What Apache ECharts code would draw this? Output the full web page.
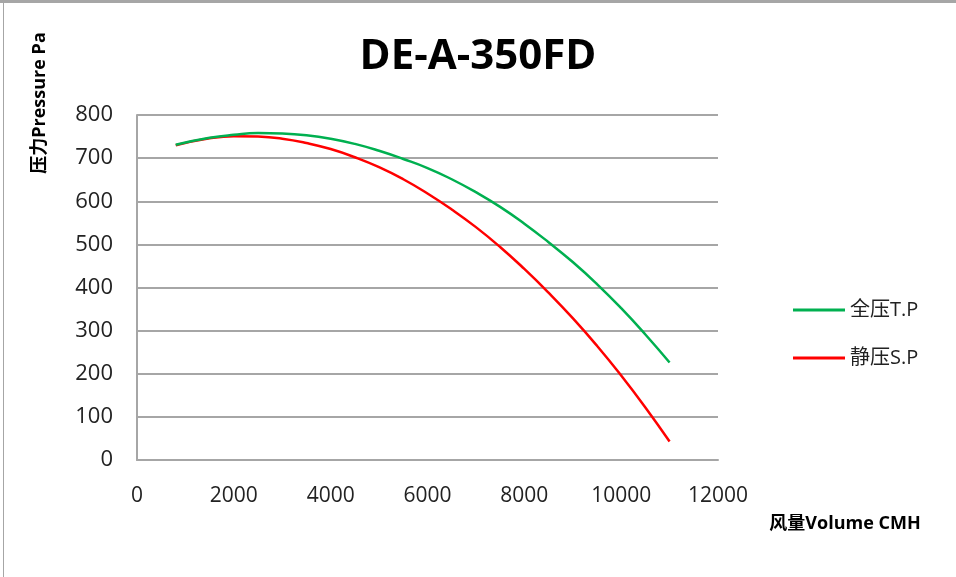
<!DOCTYPE html>
<html>
<head>
<meta charset="utf-8">
<title>DE-A-350FD</title>
<script src="https://cdn.jsdelivr.net/npm/echarts@6/dist/echarts.min.js"></script>
<style>
  html, body { margin: 0; padding: 0; background: #fff; }
  #frame {
    position: absolute; left: 0; top: 0; width: 956px; height: 577px;
    overflow: hidden;
  }
  /* spreadsheet-like border round the chart */
  #topband { position: absolute; left: 0; top: 0; width: 956px; height: 3px; background: #a6a6a6; }
  #leftline { position: absolute; left: 3px; top: 3px; width: 1px; height: 574px; background: #a6a6a6; }
  #chart { position: absolute; left: 0; top: 0; width: 956px; height: 577px; }
</style>
</head>
<body>
<div id="frame">
  <div id="chart"></div>
  <div id="topband"></div>
  <div id="leftline"></div>
</div>
<script>
// 风量 (CMH)
var volume = [800, 1500, 2000, 2500, 3000, 3500, 4000, 4500, 5000, 5500, 6000,
  6500, 7000, 7500, 8000, 8500, 9000, 9500, 10000, 10500, 11000]
// 全压 T.P (Pa)
var totalPressure = [731, 747, 754, 758, 757, 753, 745, 733, 717, 698, 677,
  651, 621, 587, 548, 505, 459, 408, 352, 291, 226]
// 静压 S.P (Pa)
var staticPressure = [730, 746, 751, 750, 745, 735, 721, 702, 679, 651, 618,
  581, 540, 494, 443, 388, 329, 265, 196, 122, 43]

var seriesNames = ['全压T.P', '静压S.P']

var chart = echarts.init(document.getElementById('chart'))

function pairs(xs, ys) {
  return xs.map(function (x, i) { return [x, ys[i]] })
}

var labelFont = '"Open Sans", "Noto Sans CJK SC", sans-serif'

var option = {
  backgroundColor: '#fff',
  animation: false,
  title: {
    text: 'DE-A-350FD',
    left: 'center',
    top: 31,
    textStyle: {
      fontFamily: labelFont,
      fontSize: 42,
      fontWeight: 'bold',
      color: '#000'
    }
  },
  legend: {
    orient: 'vertical',
    left: 788,
    top: 295,
    itemWidth: 52,
    itemHeight: 3,
    itemGap: 28,
    icon: 'rect',
    data: seriesNames,
    textStyle: {
      fontFamily: labelFont,
      fontSize: 20,
      color: '#222'
    }
  },
  grid: {
    left: 137,
    right: 238,
    top: 115,
    bottom: 117
  },
  xAxis: {
    type: 'value',
    min: 0,
    max: 12000,
    interval: 2000,
    axisLine: { show: true, lineStyle: { color: '#a6a6a6', width: 2 } },
    axisTick: { show: false },
    splitLine: { show: false },
    axisLabel: {
      margin: 26,
      fontFamily: labelFont,
      fontSize: 21,
      color: '#222',
      formatter: function (v) { return String(v) }
    }
  },
  yAxis: {
    type: 'value',
    min: 0,
    max: 800,
    interval: 100,
    axisLine: { show: true, lineStyle: { color: '#a6a6a6', width: 2 } },
    axisTick: { show: false },
    splitLine: { show: true, lineStyle: { color: '#a6a6a6', width: 2 } },
    axisLabel: {
      margin: 24,
      fontFamily: labelFont,
      fontSize: 22,
      color: '#222'
    }
  },
  graphic: [
    {
      type: 'text',
      x: 40,
      y: 103,
      rotation: Math.PI / 2,
      style: {
        text: '压力Pressure Pa',
        fontFamily: labelFont,
        fontSize: 18,
        fontWeight: 'bold',
        fill: '#000',
        align: 'center',
        verticalAlign: 'middle'
      }
    },
    {
      type: 'text',
      x: 845,
      y: 524,
      style: {
        text: '风量Volume CMH',
        fontFamily: labelFont,
        fontSize: 18,
        fontWeight: 'bold',
        fill: '#000',
        align: 'center',
        verticalAlign: 'middle'
      }
    }
  ],
  series: [
    {
      name: seriesNames[0],
      type: 'line',
      smooth: true,
      symbol: 'none',
      data: pairs(volume, totalPressure),
      lineStyle: { color: '#00b050', width: 2.5 },
      itemStyle: { color: '#00b050' },
      z: 3
    },
    {
      name: seriesNames[1],
      type: 'line',
      smooth: true,
      symbol: 'none',
      data: pairs(volume, staticPressure),
      lineStyle: { color: '#ff0000', width: 2.5 },
      itemStyle: { color: '#ff0000' },
      z: 2
    }
  ]
}

chart.setOption(option)
</script>
</body>
</html>
